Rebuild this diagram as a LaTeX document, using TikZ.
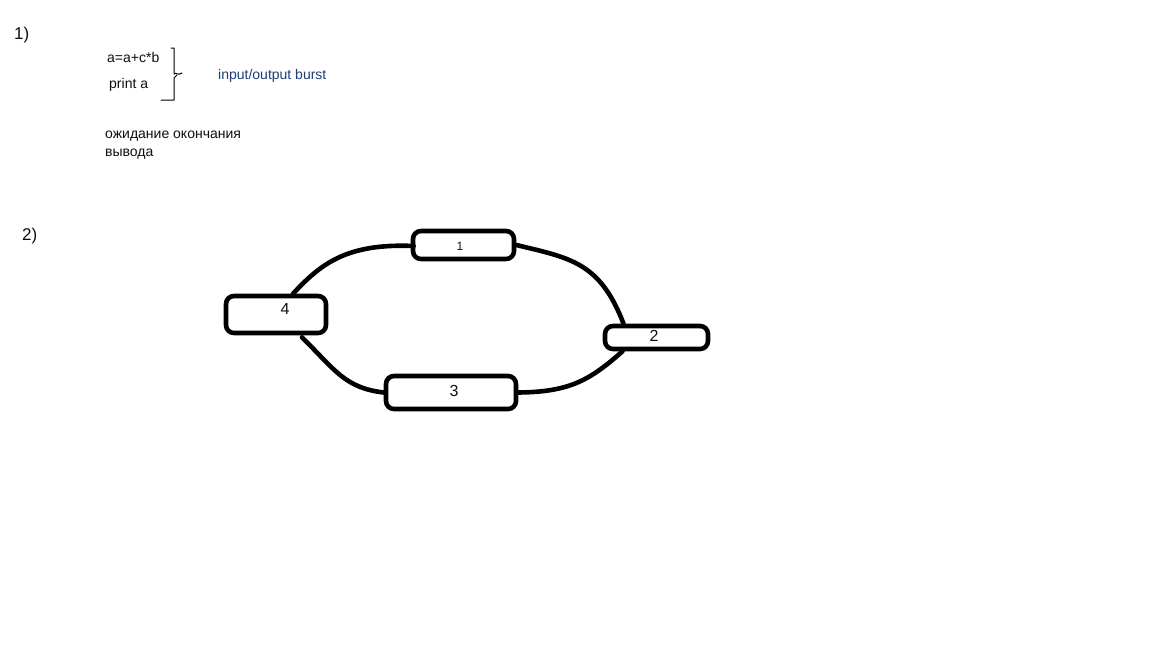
\documentclass[tikz,border=0pt]{standalone}
\usepackage{fontspec}
\setmainfont{Liberation Sans}
\definecolor{ink}{RGB}{20,14,10}
\definecolor{navy}{RGB}{30,60,120}
\begin{document}
\begin{tikzpicture}[x=1pt,y=-1pt,
  txt/.style={inner sep=0pt,anchor=west,text=ink,font=\fontsize{14}{16}\selectfont},
  num/.style={inner sep=0pt,text=ink,font=\fontsize{16}{18}\selectfont},
  stepbox/.style={draw,line width=4.6pt,rounded corners=8pt,inner sep=0pt},
  link/.style={line width=4.6pt,line cap=round}]
\useasboundingbox[fill=white] (0,0) rectangle (1152,648);

% part 1
\node[txt,font=\fontsize{17}{19}\selectfont] (p1) at (14,35) {1)};
\node[txt] (l1) at (107,57) {a=a+c*b};
\node[txt] (l2) at (109,85) {print a};
\node[txt,text=navy] (io) at (218,76) {input/output burst};
\node[txt,align=left,anchor=north west,font=\fontsize{14}{18}\selectfont] (wait) at (105,131) {ожидание окончания\\вывода};

% hand-drawn brace
\draw[line width=1pt,line cap=round,line join=round]
  (171,48) -- (174,48) -- (174,74) .. controls (176,72) and (178,76) .. (182,73);
\draw[line width=1pt,line cap=round,line join=round]
  (177,75) -- (174,78) -- (174,100) -- (161,100);

% part 2
\node[txt,font=\fontsize{17}{19}\selectfont] (p2) at (22,236) {2)};

\node[stepbox,minimum width=101pt,minimum height=28pt] (b1) at (463.5,245) {};
\node[stepbox,minimum width=103pt,minimum height=23pt] (b2) at (656.5,337.5) {};
\node[stepbox,minimum width=130pt,minimum height=33pt] (b3) at (451,392.5) {};
\node[stepbox,minimum width=100pt,minimum height=37pt] (b4) at (276,314.5) {};

\node[num,font=\fontsize{12}{14}\selectfont] (t1) at (460,246) {1};
\node[num] (t2) at (654,336) {2};
\node[num] (t3) at (454,391) {3};
\node[num] (t4) at (285,309) {4};

% connectors between the boxes
\draw[link] ([xshift=17pt]b4.north) .. controls (320,265) and (345,243) .. ([xshift=3pt,yshift=-1pt]b1.west);
\draw[link] (b1.east) .. controls (570,258) and (600,262) .. ([xshift=-33pt]b2.north);
\draw[link] ([xshift=-34pt]b2.south) .. controls (590,380) and (570,392) .. (b3.east);
\draw[link] (b3.west) .. controls (345,388) and (335,370) .. ([xshift=26pt,yshift=-2pt]b4.south);
\end{tikzpicture}
\end{document}
